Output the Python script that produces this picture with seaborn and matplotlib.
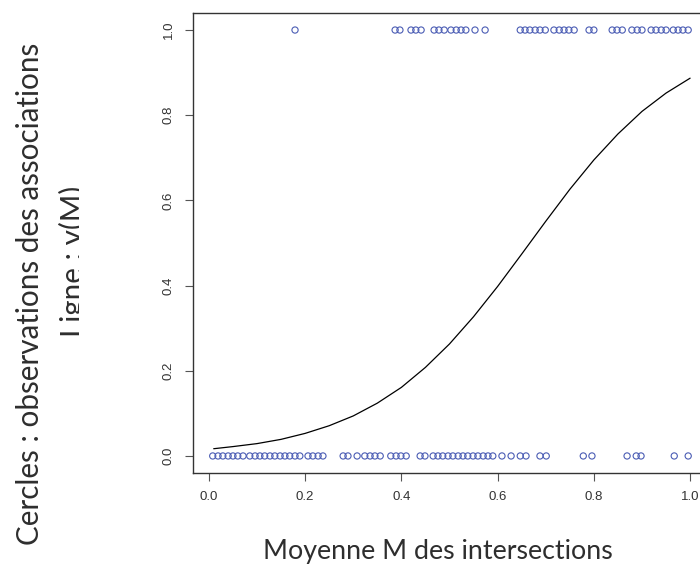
import numpy as np
import pandas as pd
import matplotlib
matplotlib.use("Agg")
import matplotlib.pyplot as plt
import seaborn as sns
from matplotlib.transforms import Bbox, TransformedBbox

# observed associations (0 = no, 1 = yes) against mean M
m_assoc_0 = [0.008, 0.019, 0.029, 0.040, 0.050, 0.060, 0.071,
             0.085, 0.096, 0.106, 0.116, 0.127, 0.137, 0.148, 0.158, 0.168, 0.179, 0.189,
             0.206, 0.216, 0.227, 0.237, 0.279, 0.289, 0.308,
             0.324, 0.335, 0.345, 0.356, 0.378, 0.389, 0.399, 0.410,
             0.439, 0.449, 0.466, 0.476, 0.486, 0.497, 0.507, 0.518, 0.528,
             0.538, 0.549, 0.559, 0.570, 0.580, 0.590,
             0.609, 0.628, 0.647, 0.659, 0.688, 0.701,
             0.778, 0.796, 0.869, 0.888, 0.898, 0.967, 0.996]
m_assoc_1 = [0.179, 0.387, 0.397, 0.420, 0.430, 0.441, 0.468, 0.478, 0.489,
             0.503, 0.514, 0.524, 0.534, 0.553, 0.574,
             0.647, 0.657, 0.667, 0.678, 0.688, 0.699,
             0.717, 0.728, 0.738, 0.748, 0.759, 0.790, 0.800,
             0.838, 0.848, 0.859, 0.879, 0.890, 0.900,
             0.919, 0.929, 0.940, 0.950, 0.965, 0.975, 0.985, 0.996]

# fitted curve y(M)
curve_m = [0.01, 0.05, 0.10, 0.15, 0.20, 0.25, 0.30, 0.35, 0.40, 0.45, 0.50,
           0.55, 0.60, 0.65, 0.70, 0.75, 0.80, 0.85, 0.90, 0.95, 1.00]
curve_y = [0.017, 0.022, 0.029, 0.039, 0.053, 0.071, 0.094, 0.124, 0.161, 0.208, 0.263,
           0.327, 0.398, 0.474, 0.551, 0.626, 0.695, 0.756, 0.809, 0.852, 0.887]

x_ticks = [0.0, 0.2, 0.4, 0.6, 0.8, 1.0]
y_ticks = [0.0, 0.2, 0.4, 0.6, 0.8, 1.0]

obs = pd.DataFrame({
    'M': m_assoc_0 + m_assoc_1,
    'assoc': [0] * len(m_assoc_0) + [1] * len(m_assoc_1),
})
fit = pd.DataFrame({'M': curve_m, 'y': curve_y})

sns.set_theme(style="ticks")
plt.rcParams['font.family'] = ['Liberation Sans', 'DejaVu Sans']

fig = plt.figure(figsize=(7, 5.64), dpi=100)
ax = fig.add_axes([193 / 700, 91 / 564, 513 / 700, 460 / 564])

sns.lineplot(data=fit, x='M', y='y', ax=ax, color='black', lw=0.9)
sns.scatterplot(data=obs, x='M', y='assoc', ax=ax, marker='o', s=20,
                facecolors='none', edgecolor='#4a5cb4', linewidth=0.8, zorder=3)

ax.set_xlim(-0.033, 1.033)
ax.set_ylim(-0.04, 1.04)
ax.set_xticks(x_ticks)
ax.set_xticklabels([f"{t:.1f}" for t in x_ticks])
ax.set_yticks(y_ticks)
ax.set_yticklabels([f"{t:.1f}" for t in y_ticks], rotation=90, va='center')
ax.tick_params(direction='out', length=6, width=0.8, color='#555555',
               labelsize=9.5, labelcolor='#333333', pad=7)
ax.set_xlabel('')
ax.set_ylabel('')
for side in ['left', 'top', 'bottom']:
    ax.spines[side].set_color('#333333')
    ax.spines[side].set_linewidth(1.0)
ax.spines['right'].set_visible(False)

lab_kw = dict(family=['Lato', 'DejaVu Sans'], weight='normal', color='#2e2e2e')
fig.text(438 / 700, 5 / 564, "Moyenne M des intersections", ha='center', va='baseline',
         fontsize=19.3, **lab_kw)
fig.text(39 / 700, 1 - 294 / 564, "Cercles : observations des associations", rotation=90,
         rotation_mode='anchor', ha='center', va='baseline', fontsize=21.3, **lab_kw)
t = fig.text(83 / 700, 1 - 261 / 564, "Ligne : y(M)", rotation=90,
             rotation_mode='anchor', ha='center', va='baseline', fontsize=21.3, **lab_kw)
t.set_clip_box(TransformedBbox(Bbox([[0, 0], [79 / 700, 1]]), fig.transFigure))
t.set_clip_on(True)

fig.savefig("out.png", dpi=100)
